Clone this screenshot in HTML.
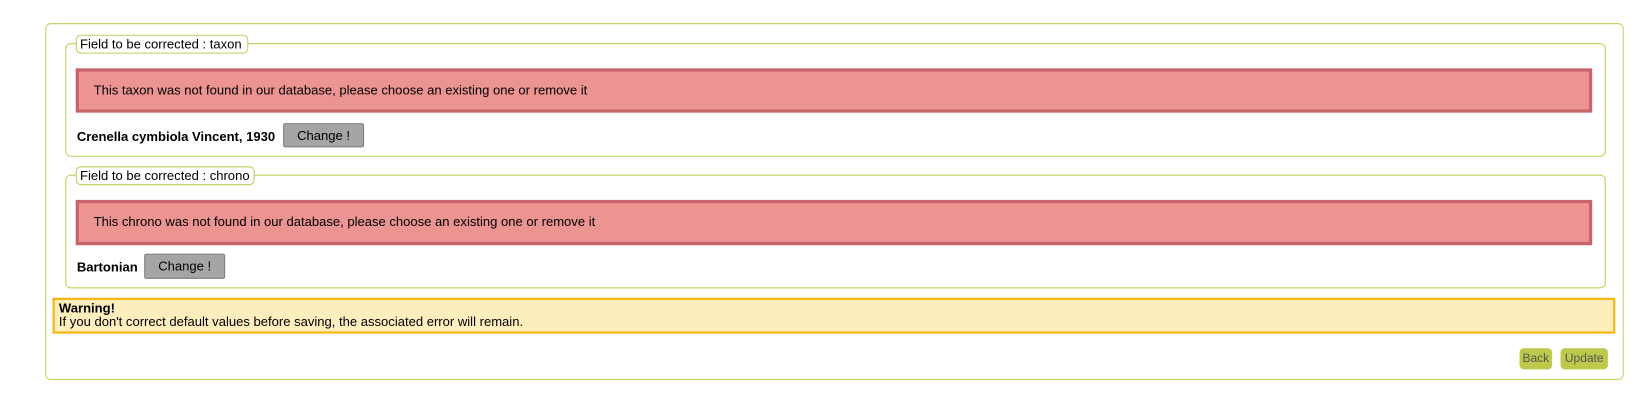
<!DOCTYPE html>
<html><head><meta charset="utf-8"><style>
body{margin:0;width:1650px;height:412px;background:#fff;font-family:"Liberation Sans",sans-serif;font-size:12.4px;color:#000;position:relative;overflow:hidden}
#w{position:absolute;left:0;top:0;width:1568px;height:392px;transform:scale(1.0523);transform-origin:0 0}
.a{position:absolute;box-sizing:border-box}
.fs{border:1px solid #bdd25a;border-radius:5px}
.lg{border:1px solid #bdd25a;border-radius:5px;background:#fff;padding:0 3px;line-height:16px;font-size:12.4px}
.err{background:#ec9491;border:3px solid #c9636b;padding-left:14px;line-height:37px;font-size:12.4px}
.btn{background:#a5a5a5;border:1px solid #7d7d7d;border-radius:2px;text-align:center;line-height:22px;font-size:12.4px}
.lb{font-weight:bold;font-size:12.4px;line-height:16px}
.gb{background:#bcc94a;border-radius:4px;color:#555;text-align:center;line-height:21px;font-size:11.4px}
</style></head><body>
<div id="w">
<div class="a fs" style="left:43px;top:22px;width:1500px;height:339px"></div>

<div class="a fs" style="left:62px;top:41px;width:1464px;height:108px"></div>
<div class="a lg" style="left:72px;top:33px;width:164px;height:18px">Field to be corrected : taxon</div>
<div class="a err" style="left:72px;top:65px;width:1441px;height:42px">This taxon was not found in our database, please choose an existing one or remove it</div>
<div class="a lb" style="left:73px;top:122px">Crenella cymbiola Vincent, 1930</div>
<div class="a btn" style="left:269px;top:117px;width:77px;height:23px">Change !</div>

<div class="a fs" style="left:62px;top:166px;width:1464px;height:108px"></div>
<div class="a lg" style="left:72px;top:158px;width:170px;height:18px">Field to be corrected : chrono</div>
<div class="a err" style="left:72px;top:190px;width:1441px;height:43px">This chrono was not found in our database, please choose an existing one or remove it</div>
<div class="a lb" style="left:73px;top:246px">Bartonian</div>
<div class="a btn" style="left:137px;top:241px;width:77px;height:24px">Change !</div>

<div class="a" style="left:50px;top:283px;width:1485px;height:34px;background:#feedbd;border:2px solid #f5b50a;padding:2px 4px;font-size:12.4px;line-height:13px"><b>Warning!</b><br>If you don't correct default values before saving, the associated error will remain.</div>

<div class="a gb" style="left:1444px;top:331px;width:31px;height:20px">Back</div>
<div class="a gb" style="left:1483px;top:331px;width:45px;height:20px">Update</div>
</div>
</body></html>
